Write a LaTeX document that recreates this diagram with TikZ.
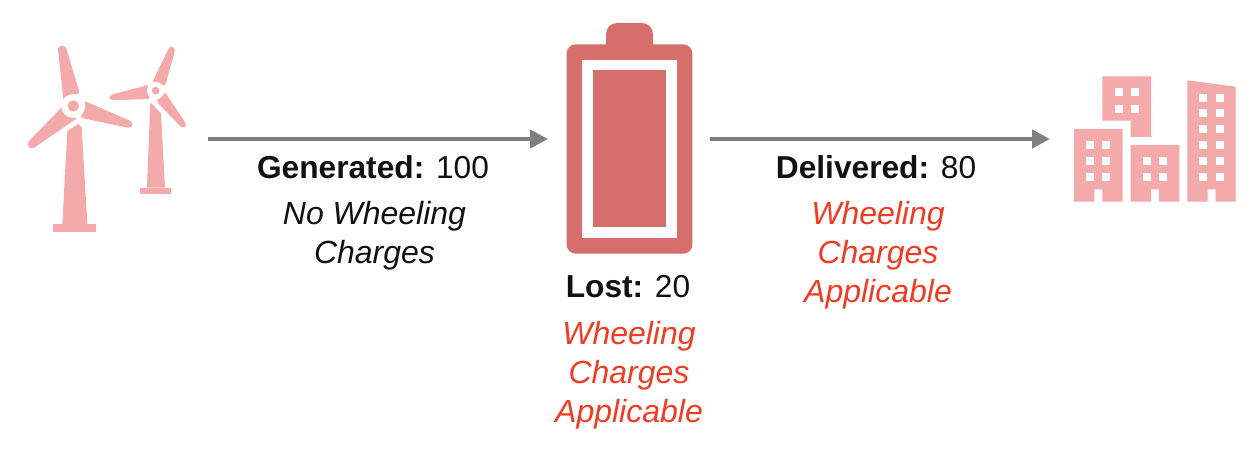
\documentclass[tikz,border=0pt]{standalone}
\usepackage{fontspec}
\setmainfont{Liberation Sans}
\usetikzlibrary{arrows.meta}
\definecolor{pinkicon}{HTML}{F4A9AB}
\definecolor{battcol}{HTML}{D66E6C}
\definecolor{redtxt}{HTML}{EE3D23}
\definecolor{arrowgray}{HTML}{7F7F7F}
\definecolor{blacktxt}{HTML}{111111}
\tikzset{
  anchorbox/.style={inner sep=0pt,outer sep=0pt,minimum height=2pt},
  flow/.style={draw=arrowgray,line width=4.5pt,-{Triangle[length=18pt,width=18pt]},shorten >=0pt},
  head/.style={text=blacktxt,font=\fontsize{31.7}{39}\selectfont,inner sep=0pt,anchor=center},
  note/.style={font=\fontsize{32}{38.8}\selectfont\itshape,align=center,inner sep=0pt,anchor=center},
  blade/.style={fill=pinkicon,rounded corners=3.5pt},
  pane/.style={fill=white},
}
\begin{document}
\begin{tikzpicture}[x=1pt,y=-1pt]
\useasboundingbox (0,0) rectangle (1258,460);
\fill[white] (0,0) rectangle (1258,460);

% wind turbines (zoom coordinates)
\begin{scope}[shift={(10,30)},x=0.3333pt,y=-0.3333pt]
  % large turbine
  \fill[pinkicon] (172,303) -- (205,282) -- (215,292) -- (232,582) -- (157,582) -- cycle;
  \fill[pinkicon] (130,582) rectangle (258,606);
  \path[blade] (160,207) -- (143,48) -- (166,46) -- (210,192) [sharp corners] -- (185,195) -- cycle;
  \path[blade] (226,214) -- (369,276) -- (364,295) -- (210,263) [sharp corners] -- cycle;
  \path[blade] (155,232) -- (49,342) -- (64,359) -- (205,262) [sharp corners] -- cycle;
  \fill[white] (190,228) circle[radius=36];
  \fill[pinkicon] (190,228) circle[radius=17];
  % small turbine
  \fill[pinkicon] (421,217) -- (453,250) -- (465,473) -- (411,473) -- cycle;
  \fill[pinkicon] (391,473) rectangle (483,491);
  \path[blade] (428,155) -- (480,47) -- (497,54) -- (465,170) [sharp corners] -- cycle;
  \path[blade] (415,165) -- (297,196) -- (299,211) -- (422,207) [sharp corners] -- cycle;
  \path[blade] (466,188) -- (531,285) -- (519,297) -- (437,212) [sharp corners] -- cycle;
  \fill[white] (437,182) circle[radius=26];
  \fill[pinkicon] (437,182) circle[radius=11.5];
\end{scope}

% battery
\begin{scope}[shift={(550,15)},x=0.3333pt,y=-0.3333pt]
  \fill[battcol,rounded corners=11pt] (168,130) -- (168,24) -- (309,24) -- (309,130) -- cycle;
  \fill[battcol,rounded corners=9pt] (50,88) rectangle (427,716);
  \fill[white] (97,135) rectangle (380,668);
  \fill[battcol] (129,166) rectangle (348,637);
\end{scope}

% buildings
\begin{scope}[shift={(1060,65)},x=0.3333pt,y=-0.3333pt]
  \fill[pinkicon] (127,34) -- (273,34) -- (273,216) -- (212,216) -- (212,167) -- (127,167) -- cycle;
  \foreach \xx in {164,212} \foreach \yy in {70,119}
    \fill[pane] (\xx,\yy) rectangle ++(24,24);
  \fill[pinkicon] (42,192) -- (188,192) -- (188,410) -- (127,410) -- (127,373) -- (103,373) -- (103,410) -- (42,410) -- cycle;
  \foreach \xx in {79,127} \foreach \yy in {228,276,325}
    \fill[pane] (\xx,\yy) rectangle ++(24,24);
  \fill[pinkicon] (212,240) -- (358,240) -- (358,410) -- (297,410) -- (297,373) -- (273,373) -- (273,410) -- (212,410) -- cycle;
  \foreach \xx in {249,297} \foreach \yy in {276,325}
    \fill[pane] (\xx,\yy) rectangle ++(24,24);
  \fill[pinkicon] (382,46) -- (527,65) -- (527,410) -- (467,410) -- (467,373) -- (443,373) -- (443,410) -- (382,410) -- cycle;
  \foreach \xx in {418,467} \foreach \yy in {88,131,179,228,276,325}
    \fill[pane] (\xx,\yy) rectangle ++(24,24);
\end{scope}

% connector end nodes
\node[anchorbox,minimum width=180pt] (wind) at (118,139) {};
\node[anchorbox,minimum width=162pt] (batt) at (629,139) {};
\node[anchorbox,minimum width=170pt] (city) at (1135,139) {};
\draw[flow] (wind) -- (batt);
\draw[flow] (batt) -- (city);

% labels
\node[head] (gen) at (373,167) {\textbf{Generated:} 100};
\node[note,text=blacktxt] (gennote) at (374.5,236) {No Wheeling\\Charges};
\node[head] (lost) at (628,287) {\textbf{Lost:} 20};
\node[note,text=redtxt] (lostnote) at (629,375) {Wheeling\\Charges\\Applicable};
\node[head] (del) at (876,167) {\textbf{Delivered:} 80};
\node[note,text=redtxt] (delnote) at (878,255) {Wheeling\\Charges\\Applicable};
\end{tikzpicture}
\end{document}
